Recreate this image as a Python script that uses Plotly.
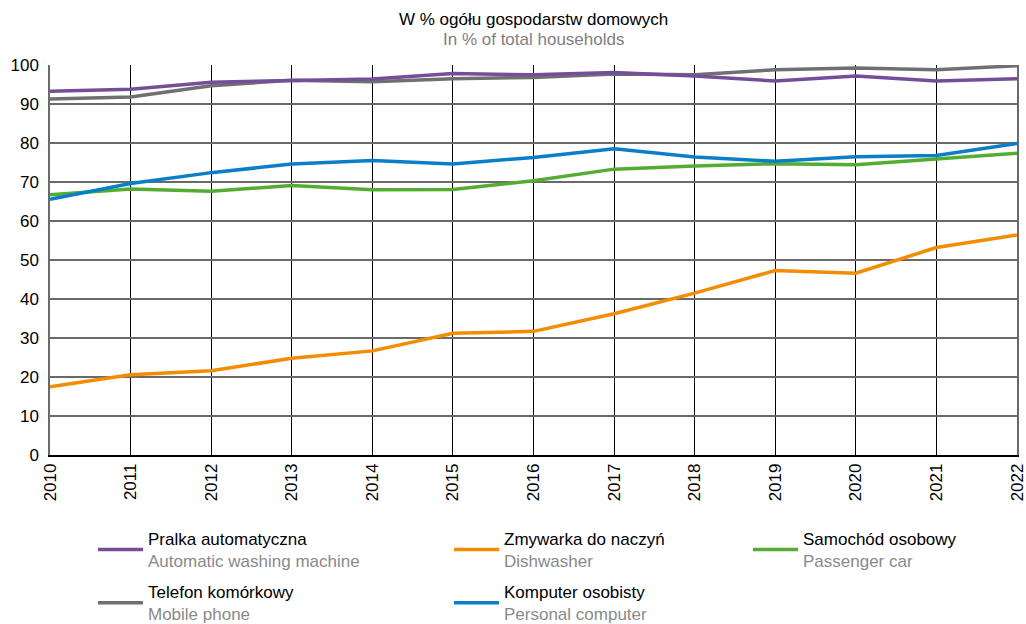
import plotly.graph_objects as go

years = list(range(2010, 2023))
year_labels = [str(y) for y in years]

pralka = [93.3, 93.8, 95.6, 96.1, 96.4, 97.8, 97.5, 98.1, 97.2, 95.9, 97.2, 95.9, 96.5]
telefon = [91.3, 91.8, 94.7, 96.1, 95.7, 96.5, 96.8, 97.7, 97.5, 98.8, 99.2, 98.8, 99.8]
komputer = [65.6, 69.6, 72.4, 74.6, 75.5, 74.6, 76.3, 78.5, 76.4, 75.3, 76.5, 76.8, 79.9]
samochod = [66.7, 68.2, 67.6, 69.1, 68.0, 68.1, 70.3, 73.3, 74.1, 74.7, 74.4, 75.9, 77.4]
zmywarka = [17.5, 20.6, 21.6, 24.8, 26.7, 31.2, 31.7, 36.2, 41.5, 47.3, 46.6, 53.2, 56.4]

names_pl = ["Pralka automatyczna", "Zmywarka do naczyń", "Samochód osobowy",
            "Telefon komórkowy", "Komputer osobisty"]
names_en = ["Automatic washing machine", "Dishwasher", "Passenger car",
            "Mobile phone", "Personal computer"]

y_ticks = list(range(0, 101, 10))

title_pl = "W % ogółu gospodarstw domowych"
title_en = "In % of total households"

FONT = "Liberation Sans, Arial, sans-serif"
FS = 17
colors = {
    "pralka": "#734f9a",
    "zmywarka": "#f28c00",
    "samochod": "#54ad32",
    "telefon": "#707070",
    "komputer": "#0a7fc8",
}

def lname(i):
    return f"{names_pl[i]}<br><span style='color:#8a8a8a'>{names_en[i]}</span>"

fig = go.Figure()
series = [
    (samochod, colors["samochod"], 2, "legend3"),
    (komputer, colors["komputer"], 4, "legend2"),
    (zmywarka, colors["zmywarka"], 1, "legend2"),
    (telefon, colors["telefon"], 3, "legend"),
    (pralka, colors["pralka"], 0, "legend"),
]
legendrank = {0: 1, 3: 2, 1: 1, 4: 2, 2: 1}
for vals, col, idx, lg in series:
    fig.add_trace(go.Scatter(
        x=years, y=vals, mode="lines", name=lname(idx),
        line=dict(color=col, width=3.5),
        legend=lg, legendrank=legendrank[idx], legendgroup=f"g{idx}",
        hoverinfo="x+y",
    ))

W, H = 1026, 624
ml, mr, mt, mb = 50, 9, 65, 169
pw = W - ml - mr
ph = H - mt - mb

def px_x(x):
    return (x - ml) / pw

def px_y(y):
    return (H - mb - y) / ph

legend_common = dict(
    orientation="v", font=dict(family=FONT, size=FS, color="#000000"),
    bgcolor="rgba(0,0,0,0)", xanchor="left", yanchor="top",
    tracegroupgap=6, itemwidth=45, traceorder="grouped", valign="middle",
)

fig.update_layout(
    width=W, height=H,
    margin=dict(l=ml, r=mr, t=mt, b=mb, autoexpand=False),
    paper_bgcolor="white", plot_bgcolor="white",
    font=dict(family=FONT, size=FS, color="#000000"),
    showlegend=True,
    legend=dict(x=px_x(93), y=px_y(521), **legend_common),
    legend2=dict(x=px_x(449), y=px_y(521), **legend_common),
    legend3=dict(x=px_x(748), y=px_y(521), **legend_common),
    xaxis=dict(
        range=[2010, 2022], tickmode="array", tickvals=years, ticktext=year_labels,
        tickangle=-90, showgrid=True, gridcolor="#000000", gridwidth=1,
        showline=True, linecolor="#000000", linewidth=1.5, mirror=False,
        ticks="", zeroline=False, fixedrange=True, ticklabeloverflow="allow",
        tickfont=dict(family=FONT, size=FS, color="#000000"),
    ),
    yaxis=dict(
        range=[0, 100], tickmode="array", tickvals=y_ticks,
        showgrid=True, gridcolor="#6a6a6a", gridwidth=1.5,
        showline=True, linecolor="#6a6a6a", linewidth=1.5, mirror=True,
        ticks="", zeroline=False, fixedrange=True, ticklabelstandoff=6,
        tickfont=dict(family=FONT, size=FS, color="#000000"),
    ),
    annotations=[
        dict(text=title_pl, xref="paper", yref="paper", x=0.5, y=px_y(20),
             xanchor="center", yanchor="middle", showarrow=False,
             font=dict(family=FONT, size=FS, color="#000000")),
        dict(text=title_en, xref="paper", yref="paper", x=0.5, y=px_y(39),
             xanchor="center", yanchor="middle", showarrow=False,
             font=dict(family=FONT, size=FS, color="#808080")),
    ],
)

fig.write_html(
    "out.html",
    config={"displayModeBar": False},
    post_script="document.body.style.margin='0px';document.body.style.overflow='hidden';",
)
